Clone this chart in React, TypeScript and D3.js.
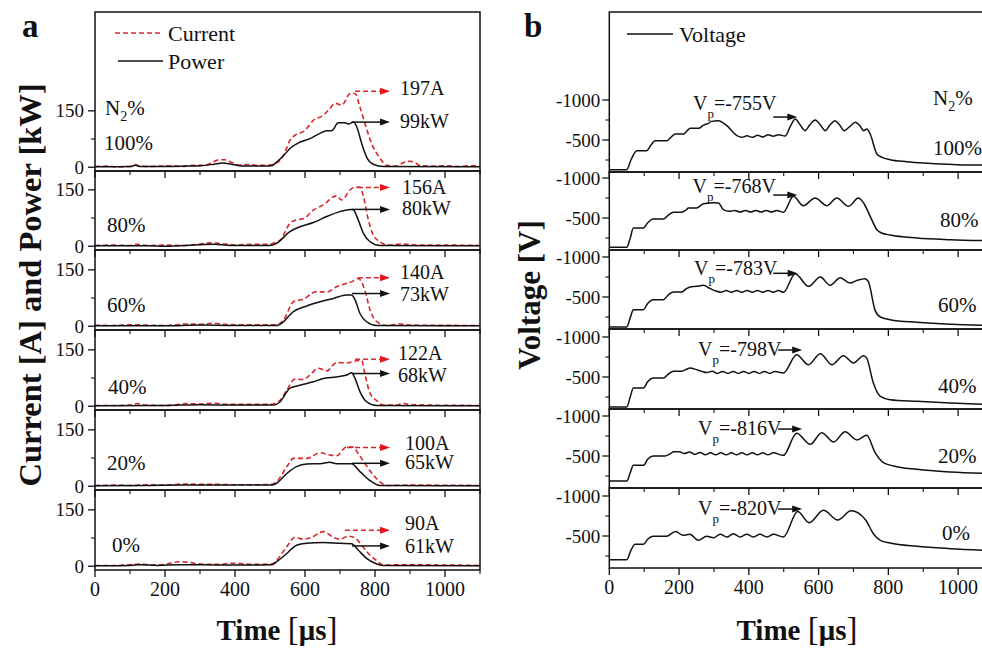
import React from "react";
import * as d3 from "d3";

const W = 982;
const H = 648;
const FONT = "'Liberation Serif', 'Times New Roman', Times, serif";
const RED = "#d8262b";
const RED_HEAD = "#e3141a";
const INK = "#111";

// ---------- labels / ticks ----------
const n2Levels = ["100%", "80%", "60%", "40%", "20%", "0%"];
const currentPeakLabels = ["197A", "156A", "140A", "122A", "100A", "90A"];
const powerPeakLabels = ["99kW", "80kW", "73kW", "68kW", "65kW", "61kW"];
const vpLabels = ["=-755V", "=-768V", "=-783V", "=-798V", "=-816V", "=-820V"];
const timeTicks = [0, 200, 400, 600, 800, 1000];
const timeMinorTicks = [100, 300, 500, 700, 900, 1100];
const currentTicks = [0, 150];
const currentMinorTicks = [75];
const voltageTicks = [-1000, -500];
const voltageMinorTicks = [-750, -250];

// ---------- panel a: current (A) and power (kW) vs time (µs) ----------
const current100: [number, number][] = [[0,2],[40,3],[60,1],[100,2],[115,7],[130,3],[160,2],[190,3],[220,4],[250,2],[280,5],[310,5],[330,10],[350,19],[370,20],[390,13],[410,6],[440,7],[470,5],[500,6],[515,10],[529,18],[545,45],[557,72],[571,85],[600,98],[624,125],[652,138],[670,155],[686,170],[705,165],[729,196],[743,196],[757,160],[771,117],[790,64],[814,24],[833,5],[862,3],[880,12],[900,16],[915,12],[929,4],[960,3],[1000,4],[1040,2],[1070,4],[1100,3]];
const power100: [number, number][] = [[0,1],[100,2],[115,5],[130,2],[200,2],[260,3],[300,4],[340,8],[365,11],[390,8],[420,3],[480,3],[505,4],[519,14],[540,32],[557,50],[586,67],[614,76],[643,90],[662,97],[676,97],[695,118],[714,118],[724,115],[738,120],[748,107],[762,63],[776,27],[795,8],[824,2],[1100,1]];
const current80: [number, number][] = [[0,2],[50,3],[100,2],[120,5],[150,2],[200,3],[250,2],[300,6],[330,9],[360,7],[400,4],[450,5],[500,5],[509,8],[529,16],[557,61],[576,70],[595,73],[624,96],[652,110],[690,134],[705,123],[729,150],[743,157],[757,157],[767,132],[781,70],[795,30],[814,12],[833,3],[880,6],[920,3],[1000,3],[1100,2]];
const power80: [number, number][] = [[0,1],[150,1],[200,0],[300,4],[340,5],[400,2],[500,2],[519,8],[557,39],[586,52],[624,63],[662,79],[700,92],[729,98],[738,97],[752,70],[767,34],[786,12],[814,2],[1100,1]];
const current60: [number, number][] = [[0,3],[50,2],[100,4],[150,3],[200,2],[230,4],[260,6],[300,5],[338,8],[370,5],[420,4],[480,4],[520,4],[538,16],[567,65],[595,72],[633,92],[662,91],[690,105],[719,114],[733,118],[752,127],[771,96],[786,43],[805,12],[833,2],[870,6],[900,3],[1100,2]];
const power60: [number, number][] = [[0,1],[200,1],[300,3],[400,2],[520,2],[529,5],[567,39],[605,54],[643,65],[681,74],[719,83],[733,83],[743,70],[757,34],[776,12],[805,2],[1100,1]];
const current40: [number, number][] = [[0,2],[60,2],[100,3],[120,7],[150,3],[200,2],[230,4],[260,7],[300,6],[340,8],[380,5],[450,5],[500,5],[515,8],[529,16],[548,43],[571,72],[595,71],[614,83],[638,101],[662,94],[690,116],[719,115],[748,121],[762,122],[771,87],[786,34],[805,15],[824,3],[860,3],[881,8],[900,4],[1100,2]];
const power40: [number, number][] = [[0,1],[200,2],[300,4],[400,3],[510,3],[529,12],[557,48],[586,56],[624,65],[652,74],[690,78],[719,83],[733,89],[743,74],[757,39],[776,12],[805,2],[1100,1]];
const current20: [number, number][] = [[0,2],[60,3],[100,2],[150,4],[200,3],[250,6],[300,5],[350,5],[400,4],[450,4],[505,5],[519,12],[548,52],[567,74],[605,74],[643,89],[671,83],[690,81],[719,105],[738,104],[752,87],[771,61],[795,30],[814,12],[833,2],[900,3],[1100,2]];
const power20: [number, number][] = [[0,1],[150,2],[250,3],[350,3],[505,3],[519,8],[548,34],[576,52],[605,59],[643,60],[671,64],[690,60],[733,60],[757,39],[786,15],[814,2],[1100,1]];
const current0: [number, number][] = [[0,2],[60,2],[100,4],[130,6],[160,3],[200,5],[240,12],[270,10],[300,6],[350,5],[400,8],[450,5],[505,6],[519,16],[548,52],[571,77],[595,72],[619,77],[652,92],[681,77],[700,72],[724,80],[743,75],[762,56],[781,34],[805,15],[824,3],[880,4],[1100,2]];
const power0: [number, number][] = [[0,1],[100,2],[130,4],[180,2],[240,4],[300,4],[400,3],[505,4],[519,12],[548,34],[576,56],[605,61],[652,63],[700,61],[733,60],[752,43],[776,21],[800,8],[824,2],[1100,1]];

// arrows (value level and start time of the peak arrows)
const currentArrowLevel = [202, 156, 129, 125, 103, 96];
const currentArrowStart = [743, 751, 751, 743, 720, 714];
const powerArrowLevel = [120, 98, 87, 87, 61, 54];
const powerArrowStart = [734, 734, 734, 734, 734, 734];

// ---------- panel b: voltage (V) vs time (µs) ----------
const voltage100: [number, number][] = [[0,-129],[50,-129],[62,-250],[79,-367],[107,-367],[120,-440],[131,-492],[165,-492],[178,-540],[189,-575],[213,-575],[224,-620],[232,-646],[256,-646],[270,-685],[284,-708],[293,-733],[313,-742],[337,-679],[366,-554],[380,-533],[395,-552],[410,-533],[425,-560],[440,-538],[455,-565],[470,-548],[485,-565],[504,-550],[520,-680],[533,-762],[547,-690],[561,-617],[575,-690],[590,-750],[605,-690],[619,-617],[633,-690],[647,-742],[660,-690],[673,-617],[690,-670],[705,-721],[718,-680],[729,-617],[738,-637],[748,-575],[767,-325],[782,-283],[805,-254],[853,-229],[901,-212],[949,-200],[997,-192],[1100,-185]];
const voltage80: [number, number][] = [[0,-133],[50,-133],[60,-250],[69,-375],[98,-375],[110,-440],[126,-487],[155,-487],[170,-540],[184,-571],[207,-571],[220,-600],[227,-625],[250,-625],[270,-679],[299,-690],[313,-688],[327,-604],[345,-583],[360,-595],[375,-575],[390,-595],[405,-575],[420,-595],[435,-575],[450,-595],[465,-575],[480,-595],[499,-571],[528,-771],[556,-654],[590,-750],[624,-654],[652,-750],[686,-646],[714,-750],[729,-688],[748,-521],[767,-354],[781,-312],[805,-287],[882,-250],[978,-229],[1100,-215]];
const voltage60: [number, number][] = [[0,-125],[50,-125],[60,-240],[69,-342],[98,-342],[110,-420],[126,-467],[155,-467],[170,-530],[184,-562],[207,-562],[220,-600],[231,-625],[250,-633],[270,-646],[290,-604],[305,-575],[320,-560],[335,-580],[350,-560],[365,-580],[380,-560],[395,-580],[410,-560],[425,-580],[440,-560],[455,-580],[470,-560],[485,-580],[499,-558],[533,-792],[571,-633],[605,-750],[633,-646],[662,-742],[690,-675],[710,-708],[733,-729],[743,-688],[762,-333],[777,-250],[805,-217],[882,-183],[978,-158],[1100,-145]];
const voltage40: [number, number][] = [[0,-125],[50,-125],[60,-250],[69,-362],[98,-362],[110,-440],[126,-487],[155,-487],[170,-540],[184,-571],[207,-571],[231,-612],[250,-592],[265,-570],[280,-555],[295,-572],[310,-545],[325,-570],[340,-545],[355,-570],[370,-545],[385,-570],[400,-545],[415,-570],[430,-545],[445,-570],[460,-545],[475,-570],[499,-550],[537,-779],[571,-654],[605,-792],[638,-654],[671,-767],[700,-675],[729,-767],[738,-737],[757,-425],[777,-258],[805,-217],[882,-196],[978,-175],[1100,-154]];
const voltage20: [number, number][] = [[0,-187],[50,-187],[60,-290],[69,-383],[98,-383],[110,-460],[126,-500],[160,-500],[176,-530],[184,-554],[200,-554],[215,-530],[230,-550],[245,-520],[260,-545],[275,-515],[290,-540],[305,-515],[320,-540],[335,-515],[350,-540],[365,-515],[380,-540],[395,-515],[410,-540],[425,-515],[440,-540],[455,-515],[470,-540],[499,-508],[537,-783],[576,-646],[609,-792],[643,-675],[676,-804],[710,-700],[738,-758],[762,-542],[786,-417],[815,-375],[882,-333],[978,-300],[1100,-280]];
const voltage0: [number, number][] = [[0,-204],[50,-204],[62,-320],[74,-396],[98,-396],[110,-460],[126,-496],[164,-496],[190,-555],[212,-508],[231,-521],[255,-446],[279,-496],[299,-479],[318,-521],[337,-487],[356,-529],[375,-487],[394,-521],[413,-487],[432,-521],[452,-487],[471,-521],[499,-487],[540,-805],[573,-667],[614,-821],[655,-700],[693,-815],[735,-700],[757,-529],[777,-446],[805,-412],[882,-371],[978,-342],[1100,-318]];

const vpArrowLevel = [-787, -787, -796, -837, -837, -837];
const vpArrowStart = [470, 470, 470, 484, 484, 484];
const vpArrowEnd = [539, 539, 540, 553, 553, 553];

const currentSeries = [current100, current80, current60, current40, current20, current0];
const powerSeries = [power100, power80, power60, power40, power20, power0];
const voltageSeries = [voltage100, voltage80, voltage60, voltage40, voltage20, voltage0];

// ---------- layout ----------
const A_LEFT = 95, A_RIGHT = 480;
const A_TOPS = [12, 171, 250, 330, 410, 490];
const A_BOTS = [171, 250, 330, 410, 490, 570];
const B_LEFT = 609.3, B_RIGHT = 993;
const B_TOPS = [12, 172, 250, 329, 409, 488];
const B_BOTS = [172, 250, 329, 409, 488, 568];
const A_PX_PER_UNIT = 0.376;
const B_PX_PER_VOLT = 0.08;

const curLabelDy = [4, 6, 1, 1, 2, 0];
const powLabelDy = [6, 6, 7, 8, 6, 7];
const annX = [400, 402, 400, 398, 405, 405];
const aLevelLabelX = [104, 107, 107, 108, 107, 112];
const aLevelLabelY = [150, 232, 312, 394, 470, 552];
const bLevelLabelX = [933, 940, 938, 938, 938, 942];
const bLevelLabelY = [155, 227, 312, 393, 463, 540];
const vpTextX = [693, 692.5, 694, 698, 698, 698];
const vpTextDy = [-7, -2, 2, 6, 6, 6];

function Arrow({ x1, x2, y, color, headColor, dashed }: { x1: number; x2: number; y: number; color: string; headColor: string; dashed?: boolean }) {
  const hl = 10, hw = 3.5;
  return (
    <g>
      <line x1={x1} x2={x2 - hl + 1} y1={y} y2={y} stroke={color} strokeWidth={1.5} strokeDasharray={dashed ? "5,3" : undefined} />
      <path d={`M${x2},${y}L${x2 - hl},${y - hw}L${x2 - hl},${y + hw}Z`} fill={headColor} />
    </g>
  );
}

function TimeAxis({ x, y, labels }: { x: d3.ScaleLinear<number, number>; y: number; labels: boolean }) {
  return (
    <g>
      {timeTicks.map((t) => (
        <line key={"M" + t} x1={x(t)} x2={x(t)} y1={y} y2={y + 7} stroke={INK} strokeWidth={1.3} />
      ))}
      {timeMinorTicks.map((t) => (
        <line key={"m" + t} x1={x(t)} x2={x(t)} y1={y} y2={y + 4} stroke={INK} strokeWidth={1.1} />
      ))}
      {labels &&
        timeTicks.map((t) => (
          <text key={"l" + t} x={x(t)} y={y + 26} textAnchor="middle" fontSize={20} fontFamily={FONT} fill={INK}>
            {t}
          </text>
        ))}
    </g>
  );
}

export default function App() {
  const xa = d3.scaleLinear().domain([0, 1100]).range([A_LEFT, A_RIGHT]);
  const xb = d3.scaleLinear().domain([0, 1100]).range([B_LEFT, B_RIGHT]);

  const aScales = A_TOPS.map((top, i) => {
    const bot = A_BOTS[i];
    return d3.scaleLinear().domain([-10, -10 + (bot - top) / A_PX_PER_UNIT]).range([bot, top]);
  });
  const bScales = B_TOPS.map((top, i) => {
    const bot = B_BOTS[i];
    return d3.scaleLinear().domain([-100, -100 - (bot - top) / B_PX_PER_VOLT]).range([bot, top]);
  });

  return (
    <svg width={W} height={H} style={{ position: "absolute", left: 0, top: 0, background: "#fff" }} fontFamily={FONT}>
      <rect x={0} y={0} width={W} height={H} fill="#fff" />

      {/* ---------------- Panel a ---------------- */}
      {A_TOPS.map((top, i) => {
        const y = aScales[i];
        const line = d3.line<[number, number]>().x((d) => xa(d[0])).y((d) => y(d[1])).curve(d3.curveMonotoneX);
        const bot = A_BOTS[i];
        return (
          <g key={"a" + i}>
            <path d={line(currentSeries[i]) || ""} fill="none" stroke={RED} strokeWidth={1.6} strokeDasharray="5,3" />
            <path d={line(powerSeries[i]) || ""} fill="none" stroke={INK} strokeWidth={1.5} />
            <rect x={A_LEFT} y={top} width={A_RIGHT - A_LEFT} height={bot - top} fill="none" stroke={INK} strokeWidth={1.5} />
            {currentTicks.map((v) => (
              <g key={"yt" + v}>
                <line x1={A_LEFT - 7} x2={A_LEFT} y1={y(v)} y2={y(v)} stroke={INK} strokeWidth={1.3} />
                <text x={A_LEFT - 11} y={y(v) + 6.5} textAnchor="end" fontSize={19} fill={INK}>{v}</text>
              </g>
            ))}
            {currentMinorTicks.map((v) => (
              <line key={"ym" + v} x1={A_LEFT - 4} x2={A_LEFT} y1={y(v)} y2={y(v)} stroke={INK} strokeWidth={1.1} />
            ))}
            <TimeAxis x={xa} y={bot} labels={i === 5} />
            <Arrow x1={xa(currentArrowStart[i])} x2={xa(843)} y={y(currentArrowLevel[i])} color={RED} headColor={RED_HEAD} dashed />
            <Arrow x1={xa(powerArrowStart[i])} x2={xa(843)} y={y(powerArrowLevel[i])} color={INK} headColor={INK} />
            <text x={annX[i]} y={y(currentArrowLevel[i]) + curLabelDy[i]} fontSize={20} fill={INK}>{currentPeakLabels[i]}</text>
            <text x={annX[i]} y={y(powerArrowLevel[i]) + powLabelDy[i]} fontSize={20} fill={INK}>{powerPeakLabels[i]}</text>
            <text x={aLevelLabelX[i]} y={aLevelLabelY[i]} fontSize={21} fill={INK}>{n2Levels[i]}</text>
          </g>
        );
      })}
      <text x={105} y={115} fontSize={21} fill={INK}>
        N<tspan fontSize={14} dy={6}>2</tspan><tspan dy={-6}>%</tspan>
      </text>
      {/* legend a */}
      <line x1={115} x2={163} y1={33} y2={33} stroke={RED} strokeWidth={1.6} strokeDasharray="5,3" />
      <text x={168} y={41} fontSize={22} fill={INK}>Current</text>
      <line x1={118} x2={163} y1={61} y2={61} stroke={INK} strokeWidth={1.5} />
      <text x={168} y={69} fontSize={22} fill={INK}>Power</text>

      <text x={22} y={37} fontSize={33} fontWeight="bold" fill={INK}>a</text>
      <text transform="translate(41,285) rotate(-90)" textAnchor="middle" fontSize={32.5} fontWeight="bold" fill={INK}>
        Current [A] and Power [kW]
      </text>
      <text x={277} y={640} textAnchor="middle" fontSize={29} fill={INK}>
        <tspan fontWeight="bold">Time </tspan>
        <tspan fontSize={33}>[</tspan>
        <tspan fontWeight="bold">μs</tspan>
        <tspan fontSize={33}>]</tspan>
      </text>

      {/* ---------------- Panel b ---------------- */}
      {B_TOPS.map((top, i) => {
        const y = bScales[i];
        const line = d3.line<[number, number]>().x((d) => xb(d[0])).y((d) => y(d[1])).curve(d3.curveMonotoneX);
        const bot = B_BOTS[i];
        const ay = y(vpArrowLevel[i]);
        return (
          <g key={"b" + i}>
            <path d={line(voltageSeries[i]) || ""} fill="none" stroke={INK} strokeWidth={1.5} />
            <rect x={B_LEFT} y={top} width={B_RIGHT - B_LEFT} height={bot - top} fill="none" stroke={INK} strokeWidth={1.5} />
            {voltageTicks.map((v) => (
              <g key={"vt" + v}>
                <line x1={B_LEFT - 7} x2={B_LEFT} y1={y(v)} y2={y(v)} stroke={INK} strokeWidth={1.3} />
                <text x={B_LEFT - 9} y={y(v) + 6.5} textAnchor="end" fontSize={19} fill={INK}>{v}</text>
              </g>
            ))}
            {voltageMinorTicks.map((v) => (
              <line key={"vm" + v} x1={B_LEFT - 4} x2={B_LEFT} y1={y(v)} y2={y(v)} stroke={INK} strokeWidth={1.1} />
            ))}
            <TimeAxis x={xb} y={bot} labels={i === 5} />
            <Arrow x1={xb(vpArrowStart[i])} x2={xb(vpArrowEnd[i])} y={ay} color={INK} headColor={INK} />
            <text x={vpTextX[i]} y={ay + vpTextDy[i]} fontSize={20} fill={INK}>
              V<tspan fontSize={13} dy={8}>p</tspan><tspan dy={-8}>{vpLabels[i]}</tspan>
            </text>
            <text x={bLevelLabelX[i]} y={bLevelLabelY[i]} fontSize={21} fill={INK}>{n2Levels[i]}</text>
          </g>
        );
      })}
      <text x={933} y={105} fontSize={21} fill={INK}>
        N<tspan fontSize={14} dy={6}>2</tspan><tspan dy={-6}>%</tspan>
      </text>
      {/* legend b */}
      <line x1={627} x2={673} y1={34} y2={34} stroke={INK} strokeWidth={1.5} />
      <text x={679} y={42} fontSize={22} fill={INK}>Voltage</text>

      <text x={524} y={37} fontSize={33} fontWeight="bold" fill={INK}>b</text>
      <text transform="translate(540,295) rotate(-90)" textAnchor="middle" fontSize={31} fontWeight="bold" fill={INK}>
        Voltage [V]
      </text>
      <text x={797} y={640} textAnchor="middle" fontSize={29} fill={INK}>
        <tspan fontWeight="bold">Time </tspan>
        <tspan fontSize={33}>[</tspan>
        <tspan fontWeight="bold">μs</tspan>
        <tspan fontSize={33}>]</tspan>
      </text>
    </svg>
  );
}
